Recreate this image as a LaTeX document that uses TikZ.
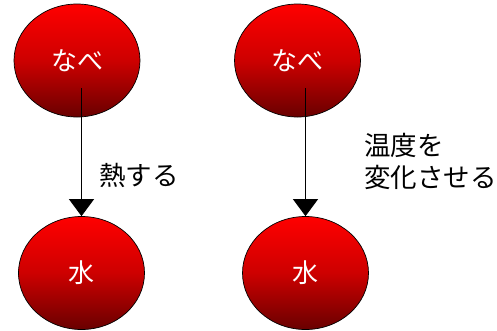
\documentclass[tikz,border=0pt]{standalone}
\usepackage{fontspec}
\setmainfont{Noto Sans CJK JP}
\usetikzlibrary{arrows.meta,shapes.geometric}
\definecolor{darkred2}{RGB}{105,0,0}
\tikzset{
  ball/.style={ellipse, draw=black, line width=0.7bp, top color=red, bottom color=darkred2, middle color={rgb,255:red,205;green,0;blue,0}, minimum width=126bp, minimum height=113bp, inner sep=0pt, text=white, font=\fontsize{26bp}{30bp}\selectfont},
  lbl/.style={font=\fontsize{26.5bp}{32bp}\selectfont, align=left, inner sep=0pt, text=black},
  arr/.style={line width=0.9bp, -{Triangle[width=25bp,length=17bp]}, shorten >=0pt}
}
\begin{document}
\begin{tikzpicture}[x=1bp,y=-1bp]
\useasboundingbox (0,0) rectangle (497,330);
\node[ball] (n1) at (77,60.5) {なべ};
\node[ball] (w1) at (81.5,273) {水};
\node[ball] (n2) at (297.5,60.5) {なべ};
\node[ball] (w2) at (305.5,273) {水};
\coordinate (s1) at (81.5,88);
\coordinate (s2) at (305.5,88);
\draw[arr] (s1) -- (w1.north);
\draw[arr] (s2) -- (w2.north);
\node[lbl, anchor=west] (l1) at (99,175) {熱する};
\node[lbl, anchor=west] (l2) at (364,161) {温度を\\変化させる};
\end{tikzpicture}
\end{document}
